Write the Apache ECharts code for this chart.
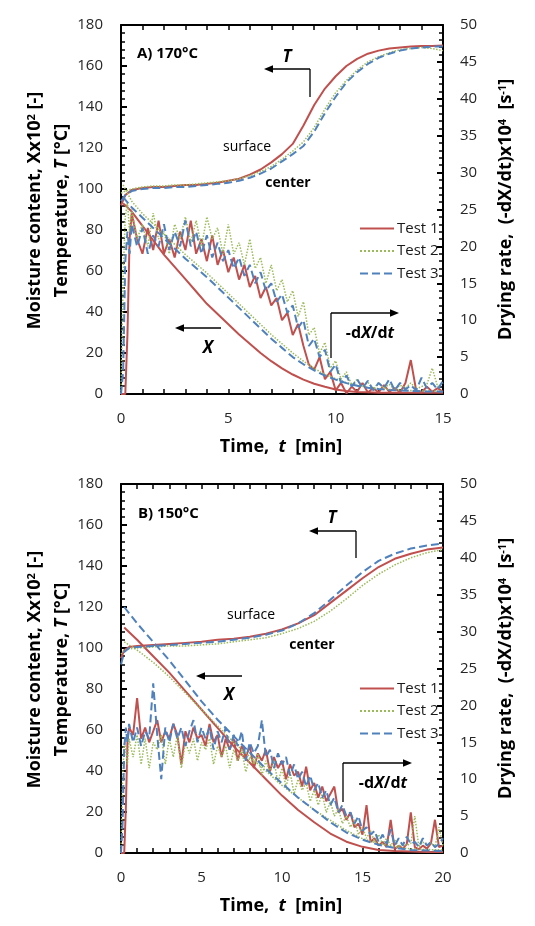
<!DOCTYPE html>
<html><head><meta charset="utf-8">
<script src="https://cdn.jsdelivr.net/npm/echarts@6/dist/echarts.min.js"></script>
<style>html,body{margin:0;padding:0;background:#fff}#c{width:535px;height:926px}</style>
</head><body><div id="c"></div>
<script>
// ---------- Panel A (170 °C) ----------
const tTempA = [0,0.2,0.5,1,1.5,2,2.5,3,3.5,4,4.5,5,5.5,6,6.5,7,7.5,8,8.5,9,9.5,10,10.5,11,11.5,12,12.5,13,13.5,14,14.5,15];
const tempA1 = [92,97,99.5,100.5,101,101,101.5,102,102,102.5,103,104,105,107,109.5,113,117,122,131,141,149,155,160,163.5,166,167.5,168.5,169,169.5,169.7,169.8,170];
const tempA2 = [98,99,100,101,101.5,101.5,102,102,102.5,103,103.5,104,105,106.5,108.5,111,114.5,118.5,123,130,139,147,153,158,162,164.5,166.5,168,168.5,169,168.5,167.5];
const tempA3 = [94,97,99,100,100.5,100.5,101,101,101.5,102,102.5,103,104,105.5,107.5,110,113.5,117,121,128,137,145,152,157,161,164,166,167.5,168.5,169,169.5,169.5];

const tMoistA = [0.1,0.5,1,1.5,2,2.5,3,3.5,4,4.5,5,5.5,6,6.5,7,7.5,8,8.5,9,9.5,10,10.5,11,11.5,12,12.5,13,13.5,14,14.5,15];
const moistA1 = [93,89,82,75,68,62,56,50,44,39,34,29,24.5,20,16,12.5,9.5,7,5,3.5,2.2,1.5,1,0.8,0.6,0.6,0.6,0.6,0.6,0.6,0.6];
const moistA2 = [102,94,88,83,78,73,68,63.5,59,54,49,44,39,34,29,24.5,20,16,12.5,9.5,7.5,5.5,4.2,3.2,2.6,2.2,1.9,1.7,1.5,1.4,1.3];
const moistA3 = [96,91,86,81,76,71,66,61.5,57,52,47,42,37,32,27,22.5,18,14.5,11.5,9,7,5.3,4,3,2.4,2,1.7,1.5,1.3,1.2,1.1];

const tRateA = [0,0.1,0.2,0.3,0.4,0.5,0.75,1,1.25,1.5,1.75,2,2.25,2.5,2.75,3,3.25,3.5,3.75,4,4.25,4.5,4.75,5,5.25,5.5,5.75,6,6.25,6.5,6.75,7,7.25,7.5,7.75,8,8.25,8.5,8.75,9,9.25,9.5,9.75,10,10.25,10.5,10.75,11,11.25,11.5,11.75,12,12.25,12.5,12.75,13,13.25,13.5,13.75,14,14.25,14.5,14.75,15];
const rateA1 = [0,0,0,8,21,24.5, 21,19,22.5,19.5,23.5,19, 21,18.5,22,19.5,23.5,19, 21,18,21.5,17.5,19.5,16.5, 18.5,15.5,17.5,14.5,16,13, 14.5,12,13,10,11,8, 9.5,6.5,4,3.3,5,2, 3,0.5,1.5,0.1,1,0.3, 1.5,0.2,0.8,0.2,1.2,0.3, 0.8,0.2,1.5,4.6,0.5,0.2, 1,0.3,0.8,0.3];
const rateA2 = [0,16,24,26,22,25, 21,23,20,24.5,21,22, 19,23,21,24,20.5,23.5, 20,24,21,22.5,19,23, 19,20.5,17.5,21,17,18.5, 15,17.5,14,15.5,12.5,14, 10.5,12.5,8,9,5.5,7, 3.5,4.5,2,3,1.2,2, 1,1.6,0.7,1.5,0.8,1.3, 0.6,1.2,0.8,1.5,0.7,1, 1.3,3.5,1,1.5];
const rateA3 = [0,3,18,22,19,23, 20,22.5,19,21.5,20,23, 19.5,22,20,23.5,20,22, 19,21.5,18.5,20.5,18,19.5, 17,18.5,16,17.5,15,16.5, 14,15,12.5,13.5,11,12, 9,10,6.5,7.5,5,6, 3,4,1.5,2.5,1,2, 0.8,1.8,0.5,1.5,0.8,2, 0.5,1.5,0.6,1.2,0.5,2.2, 0.8,1.5,0.6,1.8];

// ---------- Panel B (150 °C) ----------
const tTempB = [0,0.2,0.5,1,2,3,4,5,6,7,8,9,10,11,12,13,14,15,16,17,18,19,20];
const tempB1 = [95,99,100.5,101,101.5,102,102.5,103,104,104.5,105.5,107,109,112,116,122,128,134,139.5,143.5,146,148,149];
const tempB2 = [97,99,99.5,100,100.5,101,101,101.5,102,103,104,105,107,109.5,113,118,124,130.5,136,140.5,144,146.5,148];
const tempB3 = [92,98,100,100.5,101,101.5,102,102.5,103,104,105,106.5,108.5,112,117,123.5,130.5,137,142.5,146,148.5,150,151];

const tMoistB = [0.2,1,2,3,4,5,6,7,8,9,10,11,12,13,14,15,16,17,18,19,20];
const moistB1 = [110,104,96,88,79,70,61,52,44,36,28,21,15,9.5,5.5,3,1.5,1,0.7,0.5,0.5];
const moistB2 = [103,99,93,86,78,70,62,54,47,40,33,27,21,16,11,7,4.5,3,2,1.7,1.5];
const moistB3 = [120,112,103,94,84,74,65,57,49,41,34,27,21,15,10,6.5,4,2.5,1.5,1.2,1];

const tRateB = [0,0.1,0.2,0.3,0.4,0.5,0.75,1,1.25,1.5,1.75,2,2.25,2.5,2.75,3,3.25,3.5,3.75,4,4.25,4.5,4.75,5,5.25,5.5,5.75,6,6.25,6.5,6.75,7,7.25,7.5,7.75,8,8.25,8.5,8.75,9,9.25,9.5,9.75,10,10.25,10.5,10.75,11,11.25,11.5,11.75,12,12.25,12.5,12.75,13,13.25,13.5,13.75,14,14.25,14.5,14.75,15,15.25,15.5,15.75,16,16.25,16.5,16.75,17,17.25,17.5,17.75,18,18.25,18.5,18.75,19,19.25,19.5,19.75,20];
const rateB1 = [0,0,0,6,15,17, 16,21,15.5,17,15,16.5, 18,15,16.5,15.5,17.5,16, 12,16.5,15,17,15.5,16, 14.5,17.5,15,16,13,15.5, 14,15.5,12.5,14.5,13,14.5, 11.5,13.5,12.5,14,11,13, 11.5,12.5,10,12,10.5,11, 9,11.7,8.5,9.5,7.5,9, 7,8,9,5.5,6,4.5, 5.5,3.5,4,2.5,6.5,1.5, 2,1,1.5,0.8,4.5,0.5, 1,0.6,1.2,5.5,0.8,0.5, 1,0.6,1.3,4.5,0.8,1];
const rateB2 = [0,10,15,14,12,15.5, 13,16,12,15.5,11.5,15, 14,16,12,15.5,13,16, 11.5,15,13.5,15.5,12.5,15, 14,15.5,12,14.5,13,14.5, 11.5,14,12.5,14,11,13, 12,13.5,10.5,12.5,11,12.5, 9.5,11.5,9,11,8,10, 8.5,9.5,7,8.5,6.5,8, 5.5,7,5,6,4,5, 3.5,4.5,2.5,3.5,2,3, 1.5,2.5,1.2,2,1,1.8, 0.8,1.5,1,1.3,5,0.8, 1.5,1,1.4,0.8,3.5,1];
const rateB3 = [0,4,14,17,15,17.5, 15,17,14.5,16.5,15.5,23, 16,10,17,15,17.5,15.5, 17,14.5,16.5,18,15,17, 15.5,17,14,16.5,15,17, 14,16,14.5,16.5,12.5,15, 13.5,14.5,18,13,14,11.5, 13.5,12,13,10.5,12,10, 11,9,10.5,8.5,9.5,7.5, 8.5,6.5,7.5,5.5,6.5,5, 5.5,4,5,3,3.5,2.5, 3,1.5,2.5,1.2,3.2,1, 2,1,2.2,1.2,1.5,0.8, 2,1,1.5,0.8,1.2,2];

const testNames = ['Test 1','Test 2','Test 3'];
const leftTicks = {min:0, max:180, interval:20};
const rightTicks = {min:0, max:50, interval:5};

// ---------- styling ----------
const FONT = "'Open Sans', sans-serif";
const COLORS = ['#C0504D','#9BBB59','#4F81BD'];
const TYPES = ['solid','dotted','dashed'];
const WIDTHS = [2,1.5,2];
const zip = (t, v) => t.map((x, i) => [x, v[i]]);

function xAx(gi, max, pos) {
  return {type:'value', gridIndex:gi, min:0, max:max, interval:1, position:pos,
    axisLine:{show:true, onZero:false, lineStyle:{color:'#000', width:2}},
    axisTick:{show:true, inside:true, length:5, lineStyle:{color:'#000', width:1.5}},
    splitLine:{show:false},
    axisLabel:{show:pos==='bottom', margin:17, fontFamily:FONT, fontSize:15, color:'#262626',
      formatter: v => (v % 5 === 0 ? String(v) : '')}
  };
}
function yAx(gi, tk, pos) {
  return {type:'value', gridIndex:gi, min:tk.min, max:tk.max, interval:tk.interval, position:pos,
    axisLine:{show:true, onZero:false, lineStyle:{color:'#000', width:2}},
    axisTick:{show:true, inside:true, length:6, lineStyle:{color:'#000', width:2}},
    minorTick:{show:true, splitNumber:5, length:4, lineStyle:{color:'#000', width:1.5}},
    splitLine:{show:false}, minorSplitLine:{show:false},
    axisLabel:{margin:pos==='left'?18:17, fontFamily:FONT, fontSize:15, color:'#262626'}
  };
}
function ser(k, xi, yi, t, v) {
  return {type:'line', name:testNames[k], xAxisIndex:xi, yAxisIndex:yi, data:zip(t, v),
    symbol:'none', showSymbol:false, silent:true, z:2+k,
    lineStyle:{color:COLORS[k], type:TYPES[k], width:WIDTHS[k]}, itemStyle:{color:COLORS[k]}};
}

const series = [];
[[tempA1,tempA2,tempA3],[moistA1,moistA2,moistA3]].forEach((arr,j) => {
  arr.forEach((v,k) => series.push(ser(k, 0, 0, j===0?tTempA:tMoistA, v)));
});
[rateA1,rateA2,rateA3].forEach((v,k) => series.push(ser(k, 0, 1, tRateA, v)));
[[tempB1,tempB2,tempB3],[moistB1,moistB2,moistB3]].forEach((arr,j) => {
  arr.forEach((v,k) => series.push(ser(k, 2, 2, j===0?tTempB:tMoistB, v)));
});
[rateB1,rateB2,rateB3].forEach((v,k) => series.push(ser(k, 2, 3, tRateB, v)));

// ---------- annotations ----------
const B = {fontFamily:FONT, fontWeight:'bold', fill:'#000'};
function txt(x, y, text, size, extra) {
  return {type:'text', x, y, z:100, silent:true, style:Object.assign({text, fontSize:size, align:'center', verticalAlign:'middle'}, B, extra||{})};
}
const rich = (size) => ({
  i:{fontFamily:FONT, fontWeight:'bold', fontStyle:'italic', fontSize:size},
  s:{fontFamily:FONT, fontWeight:'bold', fontSize:Math.round(size*0.62), verticalAlign:'top'}
});
function arrowH(x1, x2, y) {
  const d = x2 > x1 ? -1 : 1;
  return [
    {type:'line', z:100, silent:true, shape:{x1:x1, y1:y, x2:x2 + d*8, y2:y}, style:{stroke:'#000', lineWidth:1.3}},
    {type:'polygon', z:100, silent:true, shape:{points:[[x2,y],[x2+d*9,y-3.8],[x2+d*9,y+3.8]]}, style:{fill:'#000'}}
  ];
}
function vline(x, y1, y2) {
  return {type:'line', z:100, silent:true, shape:{x1:x, y1:y1, x2:x, y2:y2}, style:{stroke:'#000', lineWidth:1.3}};
}
function rot(x, y, text, size) {
  return {type:'text', x, y, rotation:Math.PI/2, z:100, silent:true,
    style:Object.assign({text, fontSize:size, align:'center', verticalAlign:'middle', rich:rich(size)}, B)};
}

const graphics = [];
function panel(top, label, ann) {
  const c = top + 184.5;
  graphics.push(rot(35, c+1, 'Moisture content, Xx10{s|2} [-]', 18));
  graphics.push(rot(62, c+1, 'Temperature, {i|T} [°C]', 18));
  graphics.push(rot(506, c, 'Drying rate,  (-dX/dt)x10{s|4}  [s{s|-1}]', 18));
  graphics.push(txt(281, top+422, 'Time,  {i|t}  [min]', 18, {rich:rich(18)}));
  graphics.push(txt(ann.lab[0], ann.lab[1], label, 15, {align:'left'}));
  graphics.push(txt(ann.T[0], ann.T[1], '{i|T}', 17, {rich:rich(17)}));
  graphics.push(vline(ann.Ta[0], ann.Ta[2], ann.Ta[1]));
  graphics.push(...arrowH(ann.Ta[0], ann.Ta[3], ann.Ta[1]));
  graphics.push(txt(ann.X[0], ann.X[1], '{i|X}', 17, {rich:rich(17)}));
  graphics.push(...arrowH(ann.Xa[0], ann.Xa[1], ann.Xa[2]));
  graphics.push(vline(ann.Ra[0], ann.Ra[2], ann.Ra[1]));
  graphics.push(...arrowH(ann.Ra[0], ann.Ra[3], ann.Ra[1]));
  graphics.push(txt(ann.R[0], ann.R[1], '-d{i|X}/d{i|t}', 16, {rich:rich(16)}));
  graphics.push(txt(ann.sf[0], ann.sf[1], 'surface', 14, {fontWeight:'normal'}));
  graphics.push(txt(ann.ct[0], ann.ct[1], 'center', 14));
}
panel(25, 'A) 170°C', {lab:[137,54], T:[287,57], Ta:[310,69,97,264], X:[208,348], Xa:[221,175,328],
  Ra:[331,313,358,399], R:[370,333], sf:[247,147], ct:[288,183]});
panel(484, 'B) 150°C', {lab:[138,514], T:[332,518], Ta:[356,531,558,309], X:[229,695], Xa:[242,196,676],
  Ra:[343,763,802,412], R:[383,783], sf:[251,615], ct:[312,645]});

const legendBase = {orient:'vertical', left:354, itemWidth:34, itemHeight:14, itemGap:7.5,
  data:testNames, selectedMode:false, itemStyle:{opacity:0, borderWidth:0},
  textStyle:{fontFamily:FONT, fontSize:15, color:'#1a1a1a', padding:[0,0,0,-2]}};

const chart = echarts.init(document.getElementById('c'), null, {renderer:'canvas'});
chart.setOption({
  animation:false,
  backgroundColor:'#fff',
  grid:[{left:121, top:25, width:322, height:369}, {left:121, top:484, width:322, height:369}],
  xAxis:[xAx(0,15,'bottom'), xAx(0,15,'top'), xAx(1,20,'bottom'), xAx(1,20,'top')],
  yAxis:[yAx(0,leftTicks,'left'), yAx(0,rightTicks,'right'), yAx(1,leftTicks,'left'), yAx(1,rightTicks,'right')],
  legend:[Object.assign({top:216}, legendBase), Object.assign({top:676}, legendBase)],
  series:series,
  graphic:graphics
});
</script></body></html>
